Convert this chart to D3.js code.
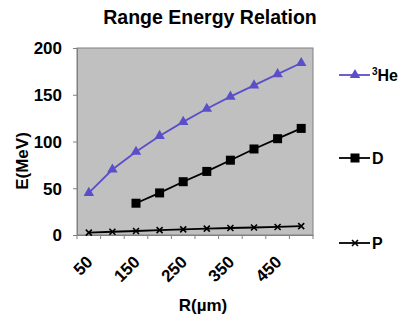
<!DOCTYPE html>
<html><head><meta charset="utf-8">
<script src="https://cdn.jsdelivr.net/npm/d3@7"></script>
<style>body{margin:0;background:#fff;}svg{display:block;font-family:"Liberation Sans",Arial,sans-serif;}</style>
</head><body>
<svg id="c" width="402" height="321"></svg>
<script>
const categories = [50,100,150,200,250,300,350,400,450,500];
const tickLabels = ["50","","150","","250","","350","","450",""];
const he3 = [45,70,89,106,121,135,148,160,172,184];
const deut = [null,null,34,45,57,68,80,92,103,114];
const prot = [2.5,3.5,4.3,5.2,6,6.8,7.5,8,8.6,9.5];
const yTicks = [0,50,100,150,200];

const svg = d3.select("#c");
const L=77, R=313, T=48, B=235;
const x = d3.scaleBand().domain(categories).range([L,R]);
const y = d3.scaleLinear().domain([0,200]).range([B,T]);
const cx = d => x(d)+x.bandwidth()/2;
const FF = "Liberation Sans, Arial, sans-serif";

svg.append("rect").attr("x",L).attr("y",T).attr("width",R-L).attr("height",B-T)
  .attr("fill","#c0c0c0").attr("stroke","#808080").attr("stroke-width",1);

svg.append("text").attr("x",210).attr("y",24).attr("text-anchor","middle")
  .attr("font-size",19.5).attr("font-weight","bold").text("Range Energy Relation");

// y axis
const ya = svg.append("g").attr("transform",`translate(${L},0)`)
  .call(d3.axisLeft(y).tickValues(yTicks).tickSize(4).tickPadding(11));
ya.select(".domain").attr("stroke","#808080");
ya.selectAll("line").attr("stroke","#808080");
ya.selectAll("text").attr("font-size",17).attr("font-weight","bold").attr("fill","#000")
  .attr("font-family",FF).attr("dy","0.35em");

// x axis
const xa = svg.append("g").attr("transform",`translate(0,${B})`)
  .call(d3.axisBottom(x).tickFormat((d,i)=>tickLabels[i]).tickSize(0));
xa.select(".domain").attr("stroke","#808080");
xa.selectAll(".tick text").attr("font-size",17).attr("font-weight","bold").attr("fill","#000")
  .attr("font-family",FF)
  .attr("text-anchor","end").attr("dy",null).attr("y",0)
  .attr("transform","translate(5,28) rotate(-45)");
const bounds = categories.map(c=>x(c)).concat([R]);
xa.selectAll(".bt").data(bounds).enter().append("line")
  .attr("x1",d=>d).attr("x2",d=>d).attr("y1",0).attr("y2",4).attr("stroke","#808080");

svg.append("text").attr("transform","translate(28,161) rotate(-90)")
  .attr("text-anchor","middle").attr("font-size",17).attr("font-weight","bold").text("E(MeV)");
svg.append("text").attr("x",203).attr("y",311).attr("text-anchor","middle")
  .attr("font-size",17).attr("font-weight","bold").text("R(µm)");

const line = d3.line().defined(d=>d.v!=null).x(d=>cx(d.c)).y(d=>y(d.v));
function series(vals,color,marker){
  const data = categories.map((c,i)=>({c,v:vals[i]}));
  svg.append("path").datum(data).attr("d",line).attr("fill","none").attr("stroke",color).attr("stroke-width",1.8);
  data.filter(d=>d.v!=null).forEach(d=>marker(cx(d.c),y(d.v)));
}
const tri=(px,py,col)=>svg.append("path").attr("d",d3.symbol(d3.symbolTriangle,48)()).attr("transform",`translate(${px},${py})`).attr("fill",col);
const sq=(px,py)=>svg.append("rect").attr("x",px-4.5).attr("y",py-4.5).attr("width",9).attr("height",9).attr("fill","#000");
const xm=(px,py)=>svg.append("path").attr("d",`M${px-3},${py-3}L${px+3},${py+3}M${px-3},${py+3}L${px+3},${py-3}`).attr("stroke","#000").attr("stroke-width",1.6);

const heCol="#5b4fc9";
series(he3,heCol,(a,b)=>tri(a,b,heCol));
series(deut,"#000",sq);
series(prot,"#000",xm);

// legend
function leg(yy,col,marker,label,sup){
  svg.append("line").attr("x1",339).attr("x2",370).attr("y1",yy).attr("y2",yy).attr("stroke",col).attr("stroke-width",1.8);
  marker(355,yy);
  const t=svg.append("text").attr("x",372).attr("y",yy+6).attr("font-size",16).attr("font-weight","bold");
  if(sup){t.append("tspan").attr("font-size",10).attr("dy",-6).text(sup);t.append("tspan").attr("dy",6).text(label);}
  else t.text(label);
}
leg(75,heCol,(a,b)=>tri(a,b,heCol),"He","3");
leg(158,"#000",sq,"D");
leg(243,"#000",xm,"P");
</script>
</body></html>
